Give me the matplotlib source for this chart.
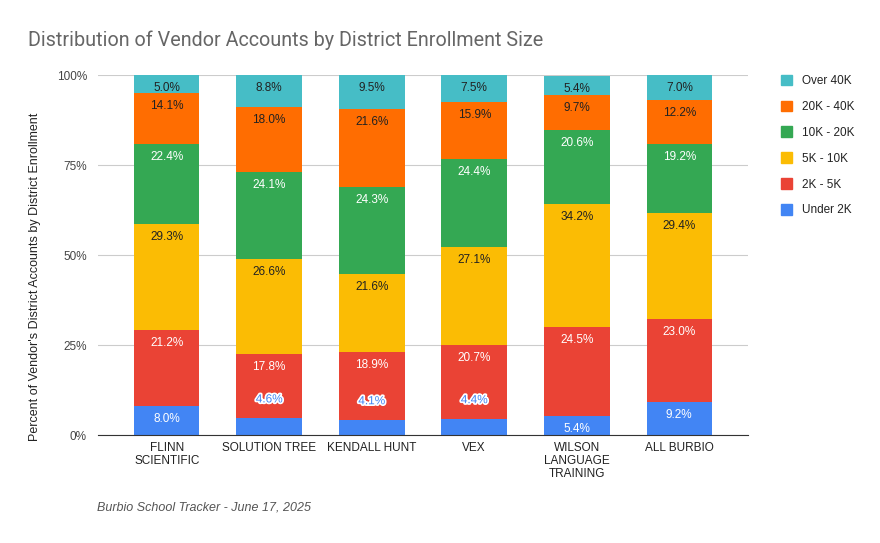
import matplotlib
matplotlib.use('Agg')
import matplotlib.pyplot as plt
import matplotlib.patheffects as pe
from matplotlib.patches import Patch
from matplotlib.ticker import FuncFormatter
import numpy as np

plt.rcParams['font.family'] = ['Liberation Sans', 'DejaVu Sans']

vendors = ['FLINN\nSCIENTIFIC', 'SOLUTION TREE', 'KENDALL HUNT', 'VEX',
           'WILSON\nLANGUAGE\nTRAINING', 'ALL BURBIO']
groups = ['Under 2K', '2K - 5K', '5K - 10K', '10K - 20K', '20K - 40K', 'Over 40K']
under_2k = [8.0, 4.6, 4.1, 4.4, 5.4, 9.2]
k2_5 = [21.2, 17.8, 18.9, 20.7, 24.5, 23.0]
k5_10 = [29.3, 26.6, 21.6, 27.1, 34.2, 29.4]
k10_20 = [22.4, 24.1, 24.3, 24.4, 20.6, 19.2]
k20_40 = [14.1, 18.0, 21.6, 15.9, 9.7, 12.2]
over_40k = [5.0, 8.8, 9.5, 7.5, 5.4, 7.0]
series = [under_2k, k2_5, k5_10, k10_20, k20_40, over_40k]

colors = ['#4285F4', '#EA4335', '#FBBC04', '#34A853', '#FF6D01', '#46BDC6']
txt_colors = ['white', 'white', '#222222', 'white', '#222222', '#222222']

fig = plt.figure(figsize=(8.8, 5.43), dpi=100)
ax = fig.add_axes([98/880, 1-435/543, 650/880, 360/543])

x = np.arange(len(vendors))
bottom = np.zeros(len(vendors))
for vals, c, tc in zip(series, colors, txt_colors):
    vals = np.array(vals)
    ax.bar(x, vals, 0.64, bottom=bottom, color=c, zorder=2)
    for xi, v, b in zip(x, vals, bottom):
        top = b + v
        if v < 5:
            # too thin, label goes above the segment
            ax.annotate(f'{v:.1f}%', (xi, top), xytext=(0, 19), textcoords='offset pixels',
                        ha='center', va='center', fontsize=8.5, color=c, zorder=4,
                        path_effects=[pe.withStroke(linewidth=2.5, foreground='white')])
        else:
            ax.annotate(f'{v:.1f}%', (xi, top), xytext=(0, -13), textcoords='offset pixels',
                        ha='center', va='center', fontsize=8.5, color=tc, zorder=3)
    bottom += vals

ax.set_xlim(-0.67, 5.67)
ax.set_ylim(0, 100)
ax.set_yticks([0, 25, 50, 75, 100])
ax.yaxis.set_major_formatter(FuncFormatter(lambda v, p: f'{v:.0f}%'))
ax.set_xticks(x)
ax.set_xticklabels(vendors, fontsize=8.5, color='#222222', linespacing=1.1)
ax.tick_params(axis='y', labelsize=8.5, colors='#444444', length=0, pad=8)
ax.tick_params(axis='x', length=0, pad=5)
ax.grid(axis='y', color='#CCCCCC', linewidth=0.8, zorder=0)
for s in ['top', 'right', 'left']:
    ax.spines[s].set_visible(False)
ax.spines['bottom'].set_color('#333333')
ax.spines['bottom'].set_zorder(5)
ax.set_ylabel("Percent of Vendor's District Accounts by District Enrollment",
              fontsize=9, color='#222222')
ax.yaxis.set_label_coords(-0.087, 0.44)

fig.text(28/880, 1-40/543, 'Distribution of Vendor Accounts by District Enrollment Size',
         fontsize=14.2, color='#666666', va='center', family='Roboto')
fig.text(97/880, 1-508/543, 'Burbio School Tracker - June 17, 2025',
         fontsize=9, color='#555555', style='italic', va='center')

handles = [Patch(color=c, label=g) for c, g in zip(colors[::-1], groups[::-1])]
fig.legend(handles=handles, loc='upper left', bbox_to_anchor=(770/880, 1-64/543),
           frameon=False, fontsize=8.5, handlelength=1.0, handleheight=1.0,
           labelspacing=1.15, handletextpad=0.8, labelcolor='#222222')

fig.savefig('out.png', dpi=100)
